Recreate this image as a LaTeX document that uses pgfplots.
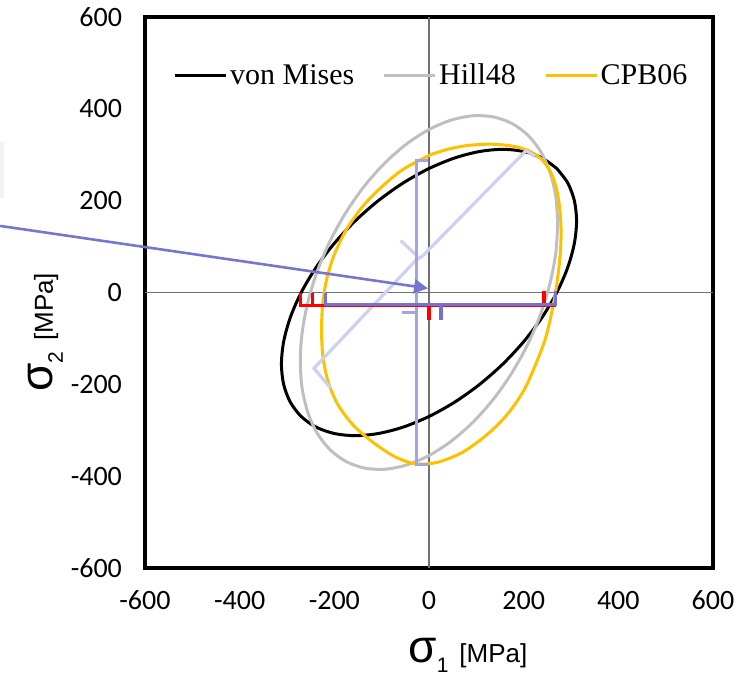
\documentclass[border=0pt]{standalone}
\usepackage{pgfplots}
\pgfplotsset{compat=1.18}
\usetikzlibrary{arrows.meta}
\usepackage{fontspec}
\setmainfont{Carlito}
\newfontfamily\arialfont{Liberation Sans}
\newfontfamily\legfont{Liberation Serif}
\definecolor{hillgray}{HTML}{BFBFBF}
\definecolor{cpborange}{HTML}{FFC000}
\definecolor{lav}{HTML}{CDD0F0}
\definecolor{midblue}{HTML}{A2A5E2}
\definecolor{darkblue}{HTML}{7272D2}
\definecolor{arrowblue}{HTML}{7676CF}
\definecolor{boxgray}{HTML}{F2F2F2}
\definecolor{zerogray}{HTML}{707070}
\begin{document}
\begin{tikzpicture}
\useasboundingbox (-72.5pt,-53.5pt) rectangle (301.5pt,284pt);
\begin{axis}[
  at={(0pt,0pt)}, anchor=south west,
  scale only axis, width=284pt, height=275.5pt,
  xmin=-600, xmax=600, ymin=-600, ymax=600,
  xtick={-600,-400,-200,0,200,400,600},
  ytick={-600,-400,-200,0,200,400,600},
  xticklabels={-600,-400,-200,0,200,400,600},
  yticklabels={-600,-400,-200,0,200,400,600},
  major tick length=0pt,
  axis line style={line width=2.2pt},
  tick label style={font=\fontsize{14}{16}\selectfont},
  xticklabel style={yshift=-8pt},
  yticklabel style={xshift=-8pt},
  clip=false,
  legend columns=3,
  legend style={at={(0.05,0.893)}, anchor=west, draw=none, fill=none,
    inner sep=0pt, nodes={inner sep=1.2pt},
    font=\legfont\fontsize{15}{17}\selectfont,
    /tikz/every even column/.append style={column sep=13pt}},
  legend image code/.code={\draw[#1] (0pt,0pt) -- (25.5pt,0pt);},
]
% zero lines
\addplot[zerogray, line width=0.6pt, forget plot] coordinates {(-600,0) (600,0)};
\addplot[zerogray, line width=0.6pt, forget plot] coordinates {(0,-600) (0,600)};
% partial box at the left edge
\addplot[draw=none, fill=boxgray, forget plot] coordinates {(-930,206) (-898,206) (-898,328) (-930,328)} --cycle;
% von Mises
\addplot[black, line width=1.5pt, smooth] coordinates {
(270,270) (238.8,293.0) (200.4,307.0) (155.8,311.8) (106.6,307.0) (54.2,293.0)
(0,270) (-54.2,238.8) (-106.6,200.4) (-155.9,155.9) (-200.4,106.6) (-238.8,54.2)
(-270,0) (-293.0,-54.2) (-307.0,-106.6) (-311.8,-155.8) (-307.0,-200.4) (-293.0,-238.8)
(-270,-270) (-238.8,-293.0) (-200.4,-307.0) (-155.8,-311.8) (-106.6,-307.0) (-54.2,-293.0)
(0,-270) (54.2,-238.8) (106.6,-200.4) (155.9,-155.9) (200.4,-106.6) (238.8,-54.2)
(270,0) (293.0,54.2) (307.0,106.6) (311.8,155.8) (307.0,200.4) (293.0,238.8) (270,270)};
\addlegendentry{von Mises}
% Hill48
\addplot[hillgray, line width=1.5pt, smooth] coordinates {
(272,150) (267.9,209.3) (255.6,262.4) (235.6,307.4) (208.4,343.1) (174.8,368.3)
(136,382.4) (93.0,384.9) (47.2,375.6) (0,355) (-47.2,323.6) (-93.0,282.3)
(-136,232.4) (-174.8,175.5) (-208.4,113.3) (-235.6,47.6) (-255.6,-19.6) (-267.9,-86.1)
(-272,-150) (-267.9,-209.3) (-255.6,-262.4) (-235.6,-307.4) (-208.4,-343.1) (-174.8,-368.3)
(-136,-382.4) (-93.0,-384.9) (-47.2,-375.6) (0,-355) (47.2,-323.6) (93.0,-282.3)
(136,-232.4) (174.8,-175.5) (208.4,-113.3) (235.6,-47.6) (255.6,19.6) (267.9,86.1) (272,150)};
\addlegendentry{Hill48}
% CPB06
\addplot[cpborange, line width=1.5pt, smooth] coordinates {
(3,300) (40,312) (80,320) (130,323) (175,319) (210,309) (238,290) (257,262)
(269,228) (276,185) (279,140) (278,95) (274,50) (268,5) (259,-45) (246,-100)
(228,-150) (201,-212) (165,-266) (121,-311) (69,-349) (17,-370) (-30,-373)
(-75,-356) (-120,-325) (-160,-289) (-192,-245) (-213,-195) (-224,-140) (-227,-85)
(-225,-30) (-217,25) (-201,80) (-174,138) (-138,190) (-100,230) (-55,268) (3,300)};
\addlegendentry{CPB06}
% light lavender path
\addplot[lav, line width=1.6pt, forget plot] coordinates {(224,296) (205,309) (-14,79) (-26,72) (-243,-165) (-208,-208)};
\addplot[lav, line width=1.6pt, forget plot] coordinates {(-60,113) (-26,81) (-26,72)};
% medium blue vertical path
\addplot[midblue, line width=1.7pt, forget plot] coordinates {(-3,287) (-27,287) (-27,-374) (-3,-374)};
\addplot[midblue, line width=1.7pt, forget plot] coordinates {(-56,-43) (-27,-43)};
% red path
\addplot[red, line width=1.6pt, forget plot] coordinates {(-271,0) (-271,-28) (268,-28)};
\addplot[red, line width=1.6pt, forget plot] coordinates {(-246,0) (-246,-28)};
\addplot[red, line width=1.6pt, forget plot] coordinates {(243,3) (243,-28)};
\addplot[red, line width=1.8pt, forget plot] coordinates {(0,-28) (0,-60)};
% dark blue path
\addplot[darkblue, line width=1.6pt, forget plot] coordinates {(-218,0) (-218,-27) (268,-27) (268,3)};
\addplot[darkblue, line width=1.8pt, forget plot] coordinates {(25,-27) (25,-60)};
% arrow
\addplot[arrowblue, line width=1.3pt, -{Triangle[length=7pt,width=7pt]}, forget plot] coordinates {(-906,145) (-2,9)};
% axis labels
\node[anchor=base west, inner sep=0pt] at (rel axis cs:0.463,-0.1724)
  {\arialfont\fontsize{23}{26}\selectfont σ\raisebox{-5pt}{\fontsize{10.5}{12}\selectfont 1}\hspace{5.5pt}{\fontsize{13}{15}\selectfont [MPa]}};
\node[anchor=base west, inner sep=0pt, rotate=90] at (rel axis cs:-0.162,0.319)
  {\arialfont\fontsize{23}{26}\selectfont σ\raisebox{-5pt}{\fontsize{10.5}{12}\selectfont 2}\hspace{5.5pt}{\fontsize{13}{15}\selectfont [MPa]}};
\end{axis}
\end{tikzpicture}
\end{document}
